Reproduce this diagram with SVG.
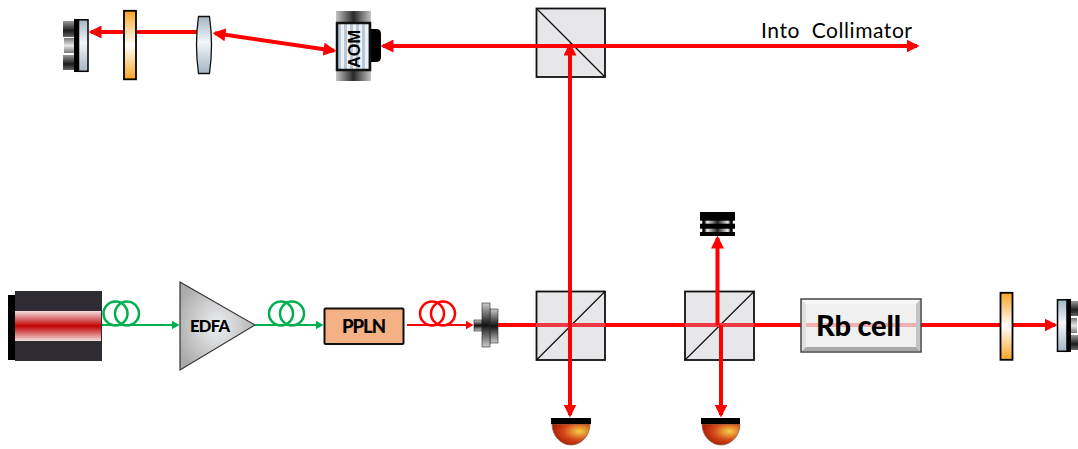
<svg xmlns="http://www.w3.org/2000/svg" width="1078" height="449" viewBox="0 0 1078 449">
<style>
.beam{stroke:#ff0000;stroke-width:4;fill:none}
.thin{stroke:#ff0000;stroke-width:2.2;fill:none}
.gr{stroke:#00b050;stroke-width:2.2;fill:none}
.coilr{stroke:#ff0000;stroke-width:2.5;fill:none}
.coilg{stroke:#00b050;stroke-width:2.5;fill:none}
.through{stroke:#ee3a44;stroke-width:4;fill:none}
.cube{fill:#e7e6e8;stroke:#111;stroke-width:1.8}
.diag{stroke:#111;stroke-width:1.2}
.plate{stroke:#000;stroke-width:1.8}
text{font-family:Lato,"Noto Sans","Liberation Sans",sans-serif;fill:#000}
.b{font-weight:900;text-anchor:middle}
</style>
<defs>
<marker id="ah" markerUnits="userSpaceOnUse" markerWidth="13" markerHeight="13" refX="10.500" refY="6.500" viewBox="0 0 13 13" orient="auto-start-reverse"><path d="M0,0L13,6.500L0,13z" fill="#ff0000"/></marker>
<marker id="ahr" markerUnits="userSpaceOnUse" markerWidth="8" markerHeight="9" refX="6.500" refY="4.500" viewBox="0 0 8 9" orient="auto"><path d="M0,0L8,4.500L0,9z" fill="#ff0000"/></marker>
<marker id="ahg" markerUnits="userSpaceOnUse" markerWidth="8" markerHeight="9" refX="6.500" refY="4.500" viewBox="0 0 8 9" orient="auto"><path d="M0,0L8,4.500L0,9z" fill="#00b050"/></marker>
<linearGradient id="wave" x1="0" y1="0" x2="0" y2="1"><stop offset="0" stop-color="#f9a423"/><stop offset=".5" stop-color="#fff"/><stop offset="1" stop-color="#f9a423"/></linearGradient>
<linearGradient id="glass" x1="0" y1="0" x2="0" y2="1"><stop offset="0" stop-color="#a3b6c4"/><stop offset=".45" stop-color="#f4f6f8"/><stop offset="1" stop-color="#a3b6c4"/></linearGradient>
<linearGradient id="metalV" x1="0" y1="0" x2="0" y2="1"><stop offset="0" stop-color="#ccc"/><stop offset=".5" stop-color="#111"/><stop offset="1" stop-color="#ccc"/></linearGradient>
<linearGradient id="mount" x1="0" y1="0" x2="0" y2="1"><stop offset="0" stop-color="#999"/><stop offset=".6" stop-color="#1c1c1c"/><stop offset="1" stop-color="#666"/></linearGradient>
<linearGradient id="mountL" x1="0" y1="0" x2="0" y2="1"><stop offset="0" stop-color="#777"/><stop offset=".5" stop-color="#e6e6e6"/><stop offset="1" stop-color="#777"/></linearGradient>
<linearGradient id="metalH" x1="0" y1="0" x2="1" y2="0"><stop offset="0" stop-color="#c4c4c4"/><stop offset=".5" stop-color="#2a2a2a"/><stop offset="1" stop-color="#c4c4c4"/></linearGradient>
<linearGradient id="band" x1="0" y1="0" x2="0" y2="1"><stop offset="0" stop-color="#f5e0e0"/><stop offset=".5" stop-color="#c00000"/><stop offset="1" stop-color="#f5e0e0"/></linearGradient>
<linearGradient id="blk" x1="0" y1="0" x2="1" y2="0"><stop offset=".05" stop-color="#fff"/><stop offset=".08" stop-color="#000"/><stop offset=".12" stop-color="#000"/><stop offset=".2" stop-color="#eee"/><stop offset=".5" stop-color="#222"/><stop offset=".8" stop-color="#eee"/><stop offset=".88" stop-color="#000"/><stop offset=".92" stop-color="#000"/><stop offset=".95" stop-color="#fff"/></linearGradient>
<pattern id="stripes" patternUnits="userSpaceOnUse" width="6" height="10" x="338"><rect width="6" height="10" fill="#eef2f6"/><rect width="3" height="10" fill="#b8c8d6"/></pattern>
<radialGradient id="tri" cx=".5" cy=".5" r=".6"><stop offset="0" stop-color="#eff0f2"/><stop offset="1" stop-color="#a9a9a9"/></radialGradient>
<radialGradient id="dome" cx=".72" cy=".35" r=".75"><stop offset="0" stop-color="#f7cf45"/><stop offset=".55" stop-color="#d2481a"/><stop offset="1" stop-color="#a81800"/></radialGradient>
</defs>

<g id="bs-top"><rect class="cube" x="536.5" y="8.5" width="68.5" height="68.5"/><line class="diag" x1="536.5" y1="8.5" x2="605" y2="77"/></g>
<g id="bs-1"><rect class="cube" x="536.5" y="291.5" width="68.5" height="68.5"/><line class="diag" x1="536.5" y1="360" x2="605" y2="291.5"/></g>
<g id="bs-2"><rect class="cube" x="685" y="291.5" width="69" height="68.5"/><line class="diag" x1="685" y1="360" x2="754" y2="291.5"/></g>

<g id="laser">
<rect x="8" y="295" width="8" height="65" fill="#000"/>
<rect x="15" y="291" width="87" height="70" fill="#2e2b33"/>
<rect x="15" y="311" width="86" height="30" fill="url(#band)"/>
</g>
<g id="edfa"><path d="M180,282L180,370L255,325z" fill="url(#tri)" stroke="#333" stroke-width="1.2"/><text class="b" x="210" y="331.500" font-size="16.500" textLength="40">EDFA</text></g>
<g id="ppln"><rect x="324.500" y="308.500" width="79" height="35.500" fill="#f4b183" stroke="#111" stroke-width="2" rx="1"/><text class="b" x="364" y="332.500" font-size="18.500" textLength="44">PPLN</text></g>
<g id="coupler">
<rect x="474" y="320" width="8" height="11" fill="url(#metalV)" stroke="#222" stroke-width=".6"/>
<rect x="490" y="309" width="8" height="34" fill="url(#metalV)" stroke="#222" stroke-width=".6"/>
<rect x="482" y="303" width="8" height="44" fill="url(#metalV)" stroke="#222" stroke-width=".6"/>
</g>
<g id="aom">
<path d="M371,29h5q5,0 5,5v23q0,5 -5,5h-5z" fill="#000"/>
<rect x="336" y="11" width="35" height="12" fill="url(#metalH)"/>
<rect x="336" y="70" width="35" height="11" fill="url(#metalH)"/>
<rect x="337" y="23" width="33" height="47" fill="url(#stripes)" stroke="#111" stroke-width="2.500"/>
<text class="b" transform="translate(359.500,49) rotate(-90)" font-size="16.300" style="font-family:'Liberation Sans',sans-serif;font-weight:700">AOM</text>
</g>
<g id="mirror-left">
<rect x="63" y="21" width="11" height="16" fill="url(#mount)"/>
<rect x="64" y="38" width="10" height="15" fill="url(#mountL)"/>
<rect x="63" y="55" width="11" height="15" fill="url(#mount)"/>
<rect x="74" y="19" width="5" height="53" fill="#000"/>
<rect x="78.500" y="19.800" width="9.500" height="51.500" fill="url(#glass)" stroke="#000" stroke-width="1.500"/>
</g>
<g id="mirror-right">
<rect x="1071" y="301" width="7" height="15" fill="url(#mount)"/>
<rect x="1071" y="318" width="6" height="15" fill="url(#mountL)"/>
<rect x="1071" y="335" width="7" height="15" fill="url(#mount)"/>
<rect x="1066" y="299" width="5" height="53" fill="#000"/>
<rect x="1057.500" y="299.800" width="9.500" height="51.500" fill="url(#glass)" stroke="#000" stroke-width="1.500"/>
</g>
<g id="blocker">
<rect x="700" y="212" width="35" height="24" fill="#000"/>
<rect x="700" y="220.700" width="35" height="3" fill="url(#blk)"/>
<rect x="700" y="228.700" width="35" height="3.300" fill="url(#blk)"/>
</g>
<g id="detector-1"><path d="M552,424A19,21 0 0 0 590,424z" fill="url(#dome)" stroke="#8a6a50" stroke-width=".8"/><rect x="551" y="418" width="40" height="6" fill="#000"/></g>
<g id="detector-2"><path d="M702,424A19,21 0 0 0 740,424z" fill="url(#dome)" stroke="#8a6a50" stroke-width=".8"/><rect x="701" y="418" width="39" height="6" fill="#000"/></g>

<g id="connectors">
<line class="gr" x1="102" y1="325" x2="178" y2="325" marker-end="url(#ahg)"/>
<circle class="coilg" cx="115.500" cy="313.500" r="12"/><circle class="coilg" cx="127" cy="313.500" r="12"/>
<line class="gr" x1="255" y1="325" x2="322" y2="325" marker-end="url(#ahg)"/>
<circle class="coilg" cx="281" cy="313.500" r="12"/><circle class="coilg" cx="292" cy="313.500" r="12"/>
<line class="thin" x1="407" y1="325" x2="472" y2="325" marker-end="url(#ahr)"/>
<circle class="coilr" cx="432" cy="313.500" r="12"/><circle class="coilr" cx="443" cy="313.500" r="12"/>
<line class="beam" x1="498" y1="325" x2="536" y2="325"/>
<line class="through" x1="536" y1="325" x2="605" y2="325"/>
<line class="beam" x1="605" y1="325" x2="685" y2="325"/>
<line class="through" x1="685" y1="325" x2="754" y2="325"/>
<line class="beam" x1="754" y1="325" x2="1055" y2="325" marker-end="url(#ah)"/>
<line class="beam" x1="383" y1="46" x2="917" y2="46" marker-start="url(#ah)" marker-end="url(#ah)"/>
<line class="beam" x1="570" y1="45" x2="570" y2="415" marker-start="url(#ah)" marker-end="url(#ah)"/>
<line class="beam" x1="717.500" y1="325" x2="717.500" y2="238" marker-end="url(#ah)"/>
<line class="beam" x1="721" y1="325" x2="721" y2="415" marker-end="url(#ah)"/>
<line class="beam" x1="91" y1="32" x2="197" y2="32" marker-start="url(#ah)"/>
<line class="beam" x1="215" y1="33.300" x2="334" y2="50.700" marker-start="url(#ah)" marker-end="url(#ah)"/>
</g>

<g id="waveplate-top"><rect class="plate" x="124" y="10.800" width="12" height="68.500" fill="url(#wave)"/></g>
<g id="waveplate-bottom"><rect class="plate" x="1000.500" y="292.800" width="12" height="67" fill="url(#wave)"/></g>
<g id="lens"><path d="M198.500,16.500h11q2,14 2,28.500t-2,28.500h-11q-2,-14 -2,-28.500t2,-28.500z" fill="url(#glass)" stroke="#111" stroke-width="1.300"/></g>
<g id="rb-cell">
<rect x="801" y="299" width="120" height="53" fill="#ebebeb" fill-opacity=".75" stroke="#444" stroke-width="1.500"/>
<path d="M802,300l4,4h110l4,-4z" fill="#f8f8f8"/>
<path d="M802,300l4,4v43l-4,4z" fill="#e0e0e0"/>
<path d="M920,300l-4,4v43l4,4z" fill="#c4c4c4"/>
<path d="M802,351l4,-4h110l4,4z" fill="#a8a8a8"/>
<text class="b" x="858.500" y="335.500" font-size="29" textLength="85">Rb cell</text>
</g>
<g id="label"><text x="761" y="38" font-size="21" textLength="151" xml:space="preserve">Into  Collimator</text></g>
</svg>
